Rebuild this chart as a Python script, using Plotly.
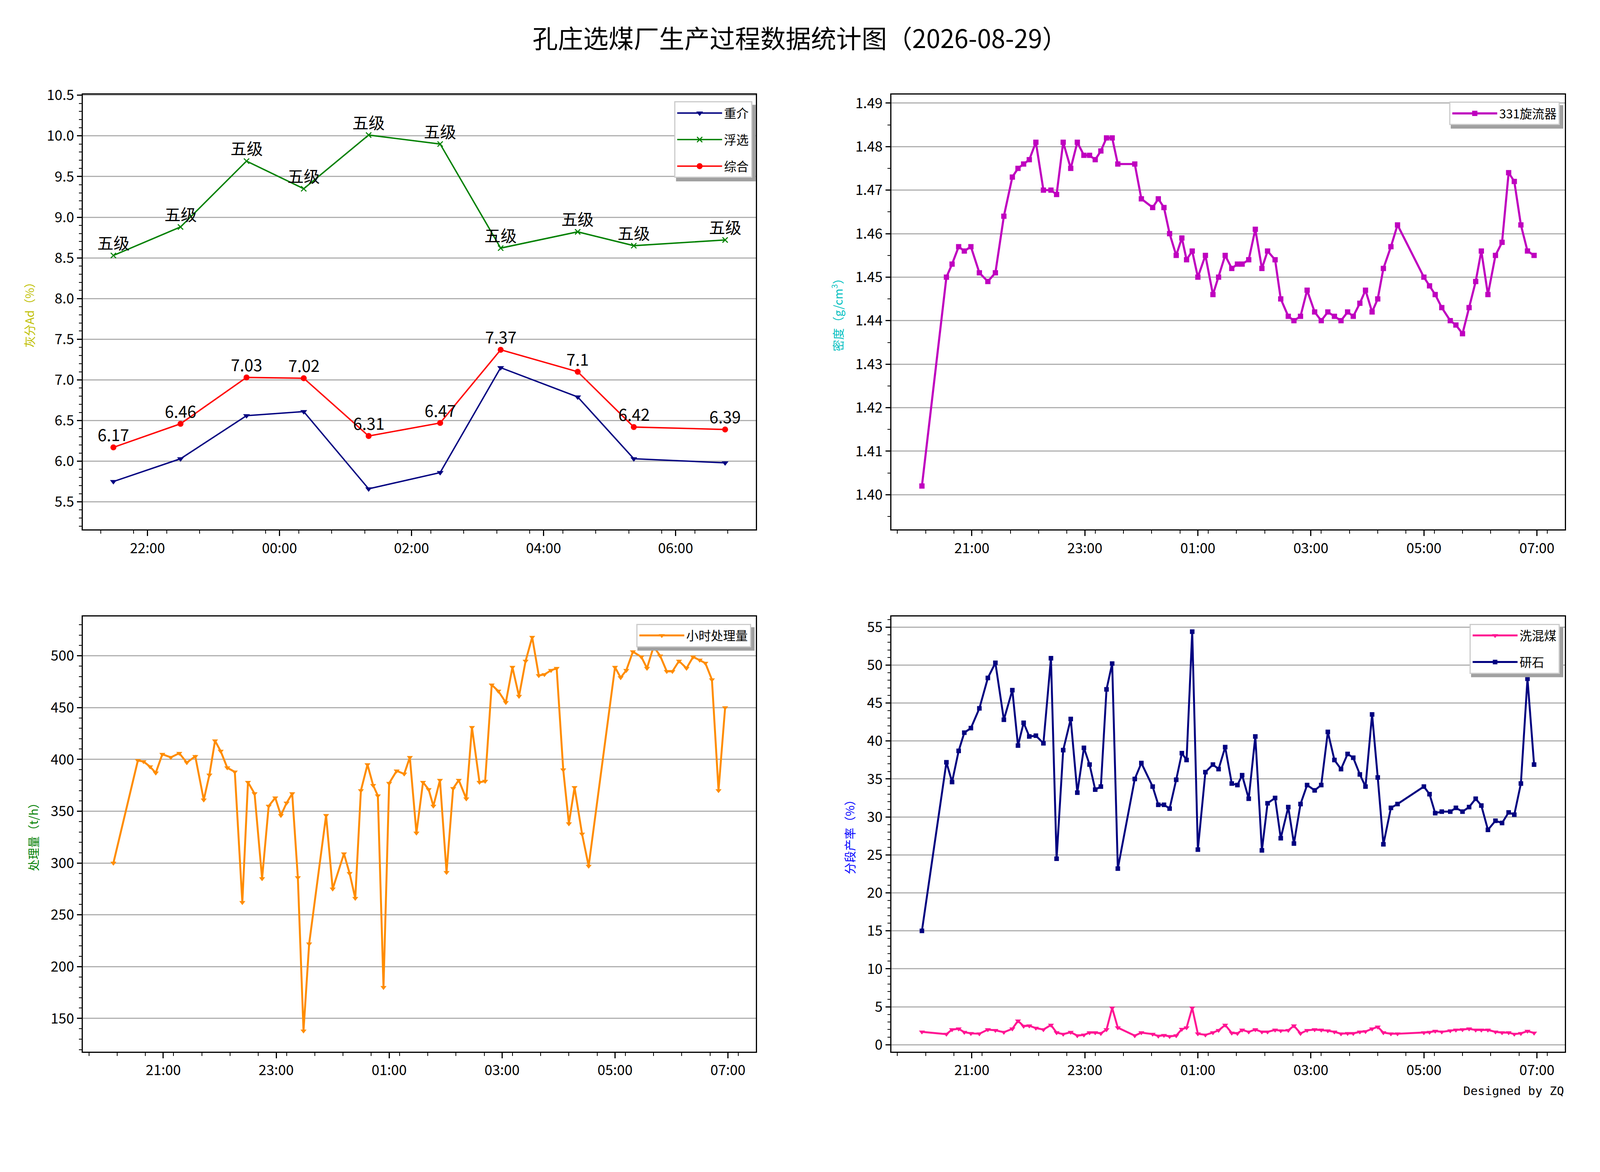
import pandas as pd
import plotly.graph_objects as go

# Chart data

# ash content (shift samples)
ash_times = ["21:29", "22:30", "23:30", "00:22", "01:21", "02:26", "03:21", "04:31", "05:22", "06:45"]
zhongjie = [5.75, 6.03, 6.56, 6.61, 5.66, 5.86, 7.15, 6.79, 6.03, 5.98]
fuxuan = [8.53, 8.88, 9.69, 9.35, 10.01, 9.90, 8.62, 8.82, 8.65, 8.72]
zonghe = [6.17, 6.46, 7.03, 7.02, 6.31, 6.47, 7.37, 7.1, 6.42, 6.39]
fuxuan_grade = ["五级", "五级", "五级", "五级", "五级", "五级", "五级", "五级", "五级", "五级"]

# process records
times = ["20:07", "20:33", "20:39", "20:46", "20:52", "20:59", "21:08", "21:17", "21:25", "21:34",
         "21:43", "21:49", "21:55", "22:01", "22:08", "22:16", "22:24", "22:30", "22:37", "22:45",
         "22:52", "22:59", "23:05", "23:11", "23:17", "23:23", "23:29", "23:35", "23:53", "00:00",
         "00:12", "00:18", "00:24", "00:30", "00:37", "00:43", "00:48", "00:54", "01:00", "01:08",
         "01:16", "01:22", "01:29", "01:36", "01:42", "01:47", "01:54", "02:01", "02:08", "02:14",
         "02:22", "02:28", "02:36", "02:42", "02:49", "02:56", "03:04", "03:11", "03:18", "03:25",
         "03:32", "03:39", "03:45", "03:52", "03:58", "04:05", "04:11", "04:17", "04:25", "04:32",
         "05:00", "05:06", "05:12", "05:19", "05:28", "05:34", "05:41", "05:48", "05:55", "06:01",
         "06:08", "06:16", "06:23", "06:30", "06:36", "06:43", "06:50", "06:57"]

density = [1.402, 1.450, 1.453, 1.457, 1.456, 1.457, 1.451, 1.449, 1.451, 1.464,
           1.473, 1.475, 1.476, 1.477, 1.481, 1.470, 1.470, 1.469, 1.481, 1.475,
           1.481, 1.478, 1.478, 1.477, 1.479, 1.482, 1.482, 1.476, 1.476, 1.468,
           1.466, 1.468, 1.466, 1.460, 1.455, 1.459, 1.454, 1.456, 1.450, 1.455,
           1.446, 1.450, 1.455, 1.452, 1.453, 1.453, 1.454, 1.461, 1.452, 1.456,
           1.454, 1.445, 1.441, 1.440, 1.441, 1.447, 1.442, 1.440, 1.442, 1.441,
           1.440, 1.442, 1.441, 1.444, 1.447, 1.442, 1.445, 1.452, 1.457, 1.462,
           1.450, 1.448, 1.446, 1.443, 1.440, 1.439, 1.437, 1.443, 1.449, 1.456,
           1.446, 1.455, 1.458, 1.474, 1.472, 1.462, 1.456, 1.455]

throughput = [300, 399, 398, 393, 387, 405, 402, 406, 397, 403,
              361, 385, 418, 408, 392, 388, 262, 378, 367, 285,
              355, 363, 346, 358, 367, 286, 138, 222, 346, 275,
              309, 290, 266, 370, 395, 375, 365, 180, 377, 389,
              386, 402, 329, 378, 371, 355, 380, 291, 372, 380,
              362, 431, 378, 379, 472, 466, 455, 489, 461, 495,
              518, 481, 482, 486, 488, 390, 338, 373, 328, 297,
              489, 479, 486, 504, 499, 488, 509, 500, 485, 485,
              495, 488, 499, 496, 493, 477, 370, 450]

xihunmei = [1.7, 1.4, 2.0, 2.1, 1.65, 1.5, 1.45, 2.0, 1.9, 1.65,
            2.1, 3.15, 2.45, 2.5, 2.2, 2.0, 2.6, 1.6, 1.4, 1.65,
            1.2, 1.3, 1.6, 1.6, 1.5, 2.0, 4.85, 2.25, 1.2, 1.6,
            1.4, 1.15, 1.25, 1.1, 1.2, 2.05, 2.25, 4.85, 1.45, 1.3,
            1.6, 1.9, 2.6, 1.55, 1.5, 1.95, 1.7, 2.0, 1.7, 1.7,
            1.95, 1.85, 1.9, 2.5, 1.5, 1.9, 2.0, 1.95, 1.85, 1.7,
            1.45, 1.5, 1.5, 1.7, 1.75, 2.1, 2.35, 1.6, 1.45, 1.45,
            1.6, 1.65, 1.8, 1.7, 1.85, 1.95, 2.0, 2.1, 1.95, 1.95,
            1.95, 1.7, 1.6, 1.6, 1.4, 1.5, 1.8, 1.55]

ganshi = [15.0, 37.2, 34.6, 38.7, 41.1, 41.7, 44.3, 48.3, 50.3, 42.8,
          46.7, 39.4, 42.4, 40.6, 40.7, 39.7, 50.9, 24.5, 38.8, 42.9,
          33.2, 39.1, 36.9, 33.6, 34.0, 46.8, 50.2, 23.2, 35.0, 37.1,
          34.0, 31.6, 31.6, 31.1, 34.9, 38.4, 37.5, 54.4, 25.7, 35.9,
          36.9, 36.3, 39.2, 34.4, 34.2, 35.5, 32.4, 40.6, 25.6, 31.8,
          32.5, 27.2, 31.3, 26.5, 31.7, 34.2, 33.5, 34.2, 41.2, 37.5,
          36.3, 38.3, 37.8, 35.6, 34.0, 43.5, 35.2, 26.4, 31.2, 31.7,
          34.0, 33.0, 30.5, 30.7, 30.7, 31.2, 30.7, 31.3, 32.4, 31.5,
          28.3, 29.5, 29.2, 30.6, 30.3, 34.4, 48.2, 36.9]


def to_dt(hhmm):
    # the night shift runs over midnight
    day = "2026-08-28" if int(hhmm[:2]) >= 12 else "2026-08-29"
    return pd.Timestamp(day + " " + hhmm)


def pad_range(ts):
    span = ts[-1] - ts[0]
    return [(ts[0] - span * 0.05).isoformat(), (ts[-1] + span * 0.05).isoformat()]


ash_x = [to_dt(t) for t in ash_times]
proc_x = [to_dt(t) for t in times]

# no fixed width/height: the figure fills the browser window,
# sizes below are pixels relative to a 3000 px tall page
S = 0.9

FONT = "Noto Sans CJK SC"
fig = go.Figure()

# Chart 1 : ash content
fig.add_trace(go.Scatter(x=ash_x, y=zhongjie, name="重介", mode="lines+markers",
                         line=dict(color="#000080", width=4 * S),
                         marker=dict(symbol="triangle-down", size=17 * S),
                         xaxis="x", yaxis="y", legend="legend", legendgroup="a1"))
fig.add_trace(go.Scatter(x=ash_x, y=fuxuan, name="浮选", mode="lines+markers",
                         line=dict(color="#008000", width=4 * S),
                         marker=dict(symbol="x-thin", size=15 * S, line=dict(color="#008000", width=3 * S)),
                         xaxis="x", yaxis="y", legend="legend", legendgroup="a2"))
fig.add_trace(go.Scatter(x=ash_x, y=zonghe, name="综合", mode="lines+markers",
                         line=dict(color="#FF0000", width=4 * S),
                         marker=dict(symbol="circle", size=17 * S),
                         xaxis="x", yaxis="y", legend="legend", legendgroup="a3"))

# Chart 2 : cyclone density
fig.add_trace(go.Scatter(x=proc_x, y=density, name="331旋流器", mode="lines+markers",
                         line=dict(color="#BF00BF", width=6 * S),
                         marker=dict(symbol="square", size=15 * S),
                         xaxis="x2", yaxis="y2", legend="legend2"))

# Chart 3 : hourly throughput
fig.add_trace(go.Scatter(x=proc_x, y=throughput, name="小时处理量", mode="lines+markers",
                         line=dict(color="#FF8C00", width=5.5 * S),
                         marker=dict(symbol="triangle-down", size=15 * S),
                         xaxis="x3", yaxis="y3", legend="legend3"))

# Chart 4 : yields
fig.add_trace(go.Scatter(x=proc_x, y=xihunmei, name="洗混煤", mode="lines+markers",
                         line=dict(color="#FF1493", width=5.5 * S),
                         marker=dict(symbol="triangle-down", size=15 * S),
                         xaxis="x4", yaxis="y4", legend="legend4", legendgroup="b1"))
fig.add_trace(go.Scatter(x=proc_x, y=ganshi, name="研石", mode="lines+markers",
                         line=dict(color="#000080", width=5.5 * S),
                         marker=dict(symbol="square", size=13 * S),
                         xaxis="x4", yaxis="y4", legend="legend4", legendgroup="b2"))

# labels over the ash lines
notes = []
for x, y, g in zip(ash_x, fuxuan, fuxuan_grade):
    notes.append(dict(x=x, y=y, xref="x", yref="y", text=g, showarrow=False,
                      yanchor="bottom", yshift=2, font=dict(family=FONT, size=46 * S, color="black")))
for x, y in zip(ash_x, zonghe):
    notes.append(dict(x=x, y=y, xref="x", yref="y", text=str(y), showarrow=False,
                      yanchor="bottom", yshift=2, font=dict(family=FONT, size=46 * S, color="black")))
notes.append(dict(x=0.98, y=0.066, xref="paper", yref="paper", text="Designed by ZQ",
                  showarrow=False, xanchor="right", yanchor="middle",
                  font=dict(family="DejaVu Sans Mono", size=34 * S, color="black")))

tick_font = dict(family=FONT, size=40 * S, color="black")


def x_axis(domain, anchor, rng, tick0, minor0):
    return dict(domain=domain, anchor=anchor, type="date", range=rng,
                tickformat="%H:%M", dtick=7200000, tick0=tick0,
                ticks="outside", ticklen=14, tickwidth=2.5, tickcolor="black",
                minor=dict(ticks="outside", ticklen=8, tickwidth=2, tickcolor="black",
                           dtick=1800000, tick0=minor0, showgrid=False),
                showline=True, linecolor="black", linewidth=3, mirror=True,
                showgrid=False, tickfont=tick_font, zeroline=False)


def y_axis(domain, anchor, rng, dtick, minor, fmt, title, color):
    return dict(domain=domain, anchor=anchor, range=rng, dtick=dtick, tickformat=fmt,
                ticks="outside", ticklen=12, tickwidth=2.5, tickcolor="black",
                minor=dict(ticks="outside", ticklen=7, tickwidth=2, tickcolor="black",
                           dtick=minor, showgrid=False),
                showline=True, linecolor="black", linewidth=3, mirror=True,
                showgrid=True, gridcolor="#b0b0b0", gridwidth=2.5, zeroline=False,
                tickfont=tick_font,
                title=dict(text=title, font=dict(family=FONT, size=33 * S, color=color),
                           standoff=24))


ash_all = zhongjie + fuxuan + zonghe
yield_all = xihunmei + ganshi

top = [0.5527, 0.93]
bottom = [0.10, 0.4773]
left = [0.05, 0.4722]
right = [0.5573, 0.9798]


def legend_box(x, y):
    return dict(x=x, y=y, xanchor="right", yanchor="top", bgcolor="white",
                bordercolor="#cccccc", borderwidth=3, itemwidth=115,
                tracegroupgap=24, font=dict(family=FONT, size=35 * S, color="black"))


# drop shadow behind a legend: anchored at its top-right corner, size in px
def legend_shadow(x, y, w, h, off=9):
    return dict(type="rect", layer="above", xref="paper", yref="paper",
                xsizemode="pixel", ysizemode="pixel", xanchor=x, yanchor=y,
                x0=-w + off, x1=off, y0=-h - off, y1=-off,
                fillcolor="#a0a0a0", line=dict(width=0))


fig.update_layout(
    autosize=True,
    margin=dict(l=0, r=0, t=0, b=0),
    paper_bgcolor="white", plot_bgcolor="white",
    font=dict(family=FONT, color="black"),
    title=dict(text="孔庄选煤厂生产过程数据统计图（2026-08-29）", x=0.5, xanchor="center",
               y=0.969, yanchor="middle", font=dict(family=FONT, size=72 * S, color="black")),
    xaxis=x_axis(left, "y", pad_range(ash_x), "2026-08-28 22:00", "2026-08-28 21:17:30"),
    yaxis=y_axis(top, "x", [min(ash_all) - 0.5, max(ash_all) + 0.5], 0.5, 0.1, ".1f",
                 "灰分Ad（%）", "#BFBF00"),
    xaxis2=x_axis(right, "y2", pad_range(proc_x), "2026-08-28 21:00", "2026-08-28 19:41"),
    yaxis2=y_axis(top, "x2", [min(density) - 0.01, max(density) + 0.01], 0.01, 0.005, ".2f",
                  "密度（g/cm<sup>3</sup>）", "#00BFBF"),
    xaxis3=x_axis(left, "y3", pad_range(proc_x), "2026-08-28 21:00", "2026-08-28 19:41"),
    yaxis3=y_axis(bottom, "x3", [min(throughput) - 20, max(throughput) + 20], 50, 10, "d",
                  "处理量（t/h）", "#008000"),
    xaxis4=x_axis(right, "y4", pad_range(proc_x), "2026-08-28 21:00", "2026-08-28 19:41"),
    yaxis4=y_axis(bottom, "x4", [min(yield_all) - 2, max(yield_all) + 2], 5, 1, "d",
                  "分段产率（%）", "#0000FF"),
    legend=legend_box(0.47, 0.924),
    legend2=legend_box(0.9767, 0.9237),
    legend3=legend_box(0.4693, 0.471),
    legend4=legend_box(0.9767, 0.471),
    shapes=[legend_shadow(0.47, 0.924, 204, 196),
            legend_shadow(0.9767, 0.9237, 288, 60),
            legend_shadow(0.4693, 0.471, 300, 60),
            legend_shadow(0.9767, 0.471, 236, 128)],
    annotations=notes,
)

fig.write_html("out.html")
